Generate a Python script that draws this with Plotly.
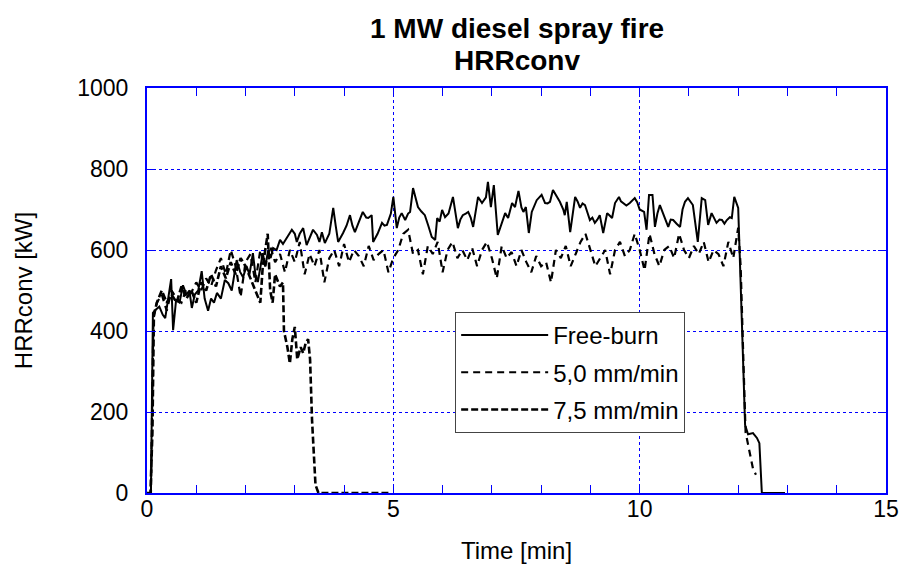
import plotly.graph_objects as go

# Free-burn (solid)
t_free = [0, 0.08, 0.12, 0.17, 0.25, 0.32, 0.37, 0.43, 0.49, 0.53, 0.59, 0.66, 0.73, 0.8, 0.86, 0.91, 0.97,
          1.04, 1.11, 1.17, 1.24, 1.3, 1.36, 1.42, 1.5, 1.58, 1.65, 1.72, 1.82, 1.89, 1.95, 2.02, 2.08, 2.15,
          2.2, 2.25, 2.35, 2.4, 2.46, 2.51, 2.56, 2.63, 2.7, 2.76, 2.84, 2.94, 3.0, 3.04, 3.1, 3.17, 3.24, 3.3,
          3.37, 3.45, 3.5, 3.55, 3.61, 3.7, 3.78, 3.83, 3.88, 3.98, 4.05, 4.12, 4.17, 4.22, 4.3, 4.38, 4.45,
          4.49, 4.56, 4.59, 4.68, 4.77, 4.82, 4.87, 4.95, 5.0, 5.07, 5.12, 5.17, 5.24, 5.3, 5.34, 5.4, 5.5,
          5.57, 5.64, 5.71, 5.78, 5.85, 5.89, 5.94, 5.99, 6.05, 6.12, 6.21, 6.31, 6.36, 6.41, 6.47, 6.52, 6.57,
          6.62, 6.72, 6.8, 6.88, 6.92, 6.98, 7.04, 7.12, 7.2, 7.27, 7.33, 7.41, 7.47, 7.54, 7.6, 7.64, 7.69,
          7.75, 7.81, 7.86, 7.91, 8.01, 8.08, 8.13, 8.18, 8.24, 8.31, 8.38, 8.45, 8.48, 8.52, 8.59, 8.69, 8.74,
          8.79, 8.84, 8.89, 8.94, 8.99, 9.04, 9.09, 9.14, 9.19, 9.26, 9.34, 9.39, 9.44, 9.5, 9.58, 9.62, 9.66,
          9.73, 9.8, 9.85, 9.9, 9.95, 10.0, 10.09, 10.14, 10.19, 10.26, 10.31, 10.36, 10.41, 10.46, 10.51,
          10.58, 10.63, 10.68, 10.75, 10.82, 10.87, 10.92, 10.98, 11.03, 11.08, 11.18, 11.26, 11.33, 11.39,
          11.46, 11.51, 11.56, 11.62, 11.67, 11.72, 11.77, 11.83, 11.87, 11.92, 11.97, 12.0, 12.08, 12.14,
          12.2, 12.3, 12.38, 12.43, 12.48, 12.95]
hrr_free = [0, 0, 445, 452, 460, 440, 432, 480, 528, 402, 476, 470, 513, 490, 500, 457, 490,
            500, 548, 480, 450, 480, 470, 494, 480, 526, 518, 500, 575, 546, 533, 560, 540, 592,
            540, 521, 592, 560, 598, 580, 605, 600, 625, 615, 630, 650, 640, 620, 640, 654, 612, 630,
            650, 637, 620, 644, 617, 640, 704, 660, 620, 642, 660, 686, 660, 644, 670, 694, 680,
            679, 686, 620, 640, 667, 660, 662, 690, 731, 654, 680, 691, 674, 690, 694, 753, 706,
            695, 686, 660, 632, 625, 679, 670, 699, 681, 690, 731, 654, 675, 686, 690, 694, 680,
            657, 731, 716, 730, 768, 706, 760, 637, 665, 691, 679, 716, 706, 746, 705, 694, 706,
            642, 694, 710, 723, 736, 716, 715, 719, 748, 735, 719, 700, 686, 719, 644, 731, 720,
            704, 715, 711, 690, 674, 680, 667, 675, 686, 642, 691, 685, 679, 716, 731, 720, 716,
            710, 716, 722, 728, 718, 700, 694, 650, 736, 736, 657, 690, 711, 695, 681,
            657, 675, 674, 665, 657, 700, 719, 728, 720, 711, 620, 728, 723, 662,
            691, 680, 667, 675, 674, 665, 674, 681, 679, 731, 715, 704, 402, 168,
            145, 148, 136, 123, 0, 0]

# 5,0 mm/min (dashed)
t_50 = [0, 0.08, 0.13, 0.2, 0.3, 0.4, 0.5, 0.6, 0.7, 0.8, 0.9, 1.0, 1.1, 1.2, 1.3, 1.4, 1.5, 1.6, 1.7,
        1.8, 1.9, 2.0, 2.1, 2.2, 2.3, 2.4, 2.5, 2.6, 2.7, 2.8, 2.9, 3.0, 3.1, 3.2, 3.3, 3.4, 3.5, 3.6,
        3.7, 3.8, 3.9, 4.0, 4.1, 4.2, 4.3, 4.4, 4.5, 4.6, 4.7, 4.8, 4.9, 5.0, 5.1, 5.2, 5.3, 5.4, 5.5,
        5.6, 5.7, 5.8, 5.9, 6.0, 6.1, 6.2, 6.3, 6.4, 6.5, 6.6, 6.7, 6.8, 6.9, 7.0, 7.1, 7.2, 7.3, 7.4,
        7.5, 7.6, 7.7, 7.8, 7.9, 8.0, 8.1, 8.2, 8.3, 8.4, 8.5, 8.6, 8.7, 8.8, 8.9, 9.0, 9.1, 9.2, 9.3,
        9.4, 9.5, 9.6, 9.7, 9.8, 9.9, 10.0, 10.1, 10.2, 10.3, 10.4, 10.5, 10.6, 10.7, 10.8, 10.9, 11.0,
        11.1, 11.2, 11.3, 11.4, 11.5, 11.6, 11.7, 11.8, 11.9, 12.0, 12.05, 12.1, 12.15, 12.2, 12.3, 12.36]
hrr_50 = [0, 0, 430, 470, 490, 450, 500, 480, 470, 505, 495, 520, 500, 530, 510, 550, 580, 540, 600,
          560, 484, 570, 590, 520, 600, 560, 610, 570, 590, 545, 600, 570, 620, 540, 590, 560, 600, 520,
          580, 600, 560, 615, 570, 600, 585, 560, 610, 575, 590, 600, 545, 580, 600, 640, 650, 590, 600,
          540, 610, 590, 620, 545, 600, 620, 580, 600, 575, 605, 560, 600, 620, 580, 530, 610, 580, 595,
          560, 600, 570, 545, 585, 560, 570, 520, 600, 580, 610, 560, 590, 620, 640, 600, 560, 580, 600,
          540, 600, 620, 585, 600, 640, 600, 550, 640, 590, 560, 600, 610, 580, 640, 600, 580,
          610, 590, 620, 570, 600, 590, 560, 620, 580, 655, 560, 350, 150, 120, 60, 45]

# 7,5 mm/min (short dashes)
t_75 = [0, 0.07, 0.11, 0.14, 0.2, 0.3, 0.4, 0.5, 0.6, 0.7, 0.8, 0.9, 1.0, 1.1, 1.2, 1.3, 1.4, 1.5, 1.6,
        1.7, 1.8, 1.9, 2.0, 2.1, 2.2, 2.3, 2.35, 2.45, 2.5, 2.55, 2.6, 2.7, 2.76, 2.78, 2.85, 2.9, 2.95,
        3.0, 3.05, 3.12, 3.17, 3.22, 3.27, 3.31, 3.35, 3.42, 3.48, 4.9]
hrr_75 = [0, 0, 150, 440, 470, 500, 470, 490, 470, 510, 480, 500, 470, 520, 500, 540, 510, 560, 530,
          570, 540, 580, 560, 530, 500, 470, 560, 640, 500, 470, 540, 510, 520, 400, 360, 320, 380,
          410, 330, 360, 345, 370, 380, 330, 180, 20, 0, 0]

FONT = "Liberation Sans, Arial, sans-serif"
BLUE = "#0000ff"

fig = go.Figure()
fig.add_trace(go.Scatter(x=t_free, y=hrr_free, mode="lines", name="Free-burn", legendgroup="a",
                         line=dict(color="black", width=2)))
fig.add_trace(go.Scatter(x=t_50, y=hrr_50, mode="lines", name="5,0 mm/min", legendgroup="b",
                         line=dict(color="black", width=2.2, dash="7px,5px")))
fig.add_trace(go.Scatter(x=t_75, y=hrr_75, mode="lines", name="7,5 mm/min", legendgroup="c",
                         line=dict(color="black", width=2.6, dash="7px,3px")))

axis_common = dict(showline=True, linecolor=BLUE, linewidth=2, mirror="ticks",
                   ticks="inside", tickcolor=BLUE, ticklen=8, automargin=False,
                   showgrid=True, gridcolor=BLUE, griddash="dot", gridwidth=1,
                   zeroline=False, tickfont=dict(family=FONT, size=23, color="black"))

fig.update_xaxes(range=[0, 15], dtick=5, tick0=0, ticklabelstandoff=-6,
                 minor=dict(dtick=1, ticks="inside", ticklen=8, tickcolor=BLUE, showgrid=False),
                 title=dict(text="Time [min]", font=dict(family=FONT, size=24, color="black"), standoff=22),
                 **axis_common)
fig.update_yaxes(range=[0, 1000], dtick=200, ticklabelstandoff=12,
                 title=dict(text="HRRconv [kW]", font=dict(family=FONT, size=24, color="black"), standoff=38),
                 **axis_common)

fig.add_annotation(text="<b>1 MW diesel spray fire</b>", xref="paper", yref="paper", x=0.5, y=1.148,
                   showarrow=False, yanchor="middle", font=dict(family=FONT, size=28, color="black"))
fig.add_annotation(text="<b>HRRconv</b>", xref="paper", yref="paper", x=0.5, y=1.069,
                   showarrow=False, yanchor="middle", font=dict(family=FONT, size=28, color="black"))

fig.update_layout(
    width=903, height=572,
    margin=dict(l=147, r=17, t=88, b=79),
    plot_bgcolor="white", paper_bgcolor="white",
    legend=dict(x=0.417, y=0.447, xanchor="left", yanchor="top",
                bgcolor="white", bordercolor="#444444", borderwidth=1,
                font=dict(family=FONT, size=24, color="black"),
                traceorder="grouped", tracegroupgap=3, itemwidth=87),
)

# drop the default 8px page margin so the figure fills the window exactly
fig.write_html("out.html", config={"displayModeBar": False},
               post_script="document.body.style.margin='0';document.body.style.overflow='hidden';")
